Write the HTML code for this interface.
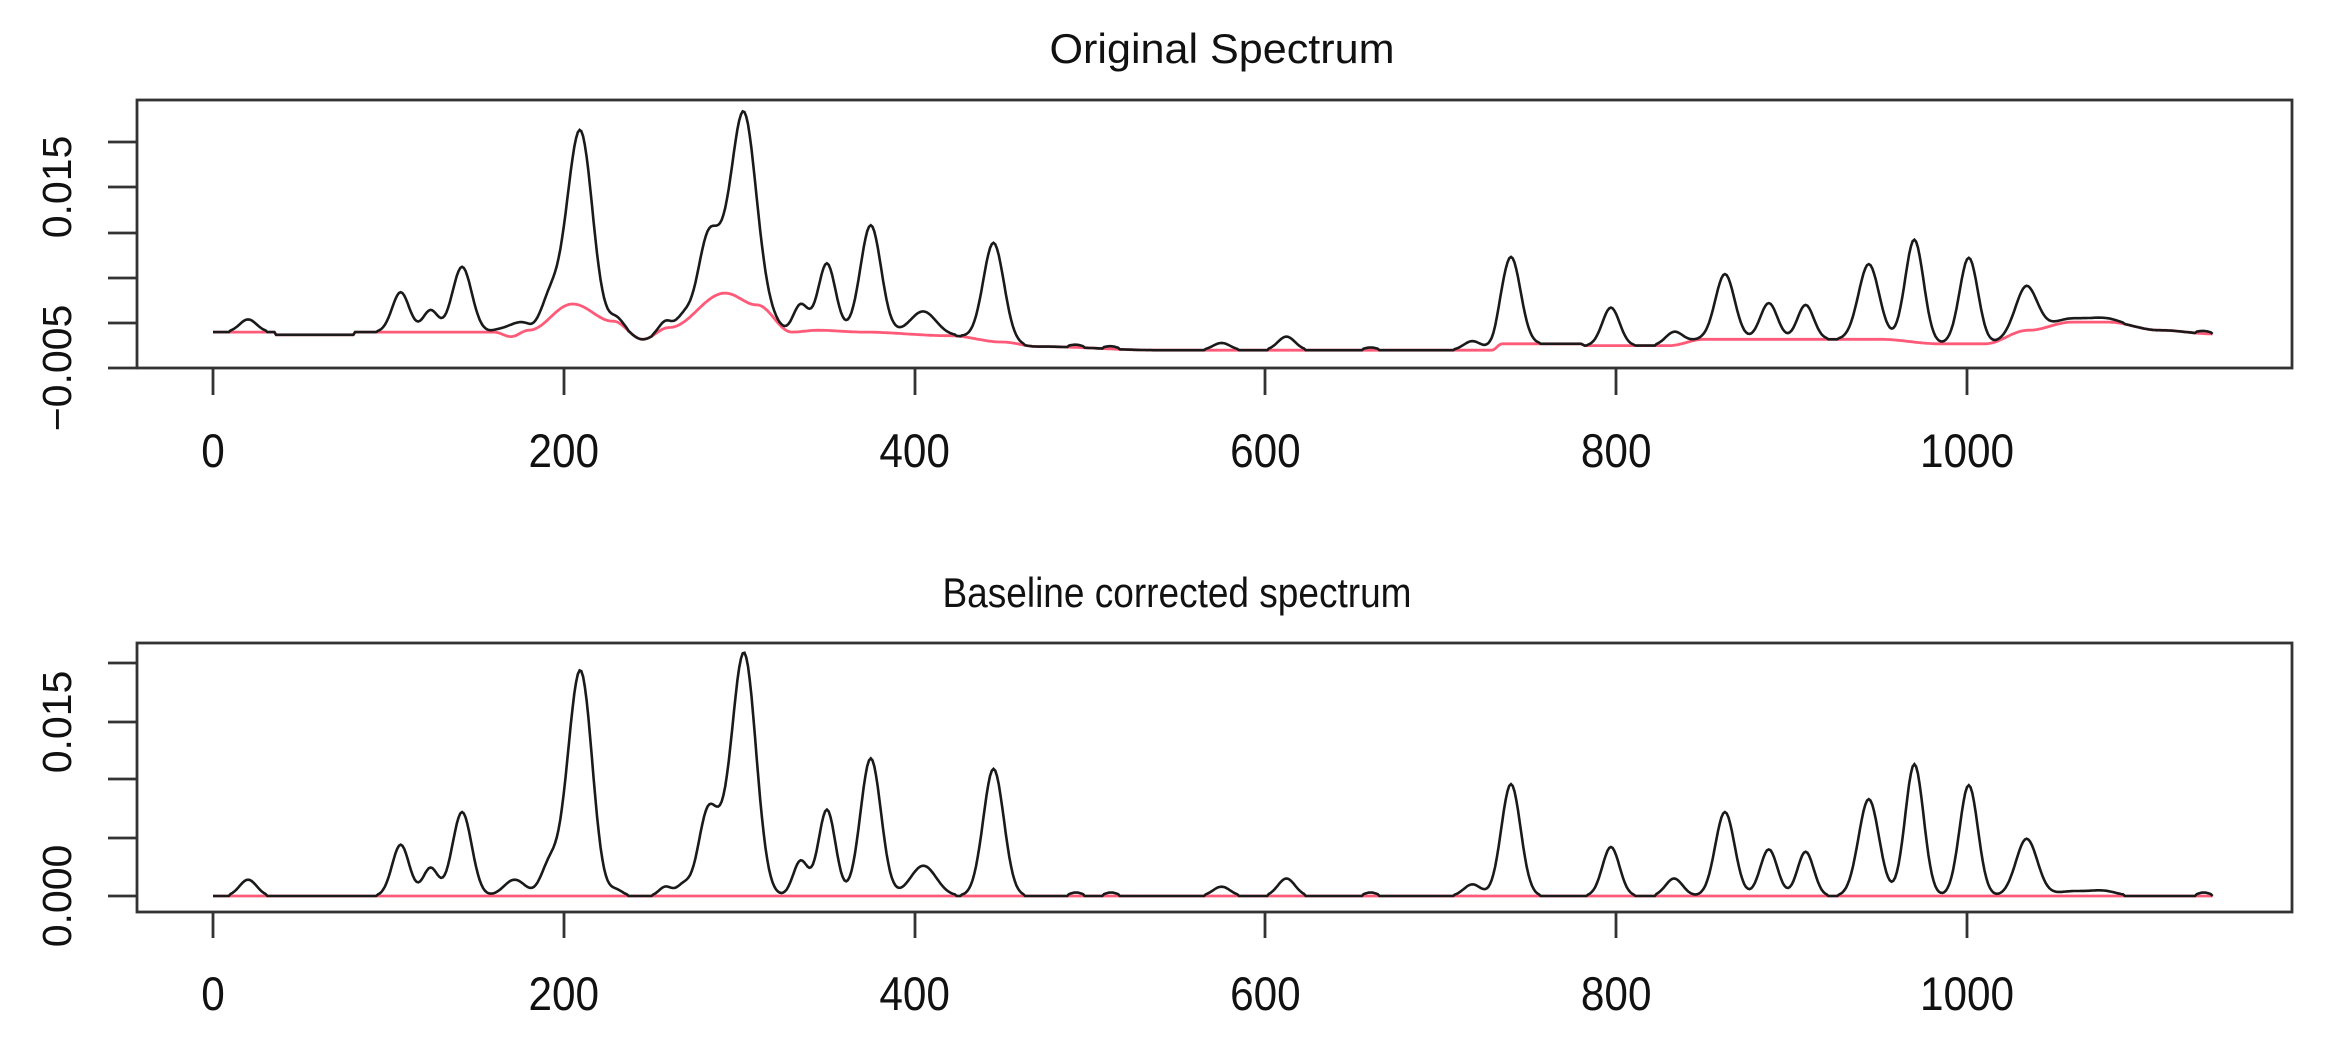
<!DOCTYPE html>
<html><head><meta charset="utf-8"><style>
html,body{margin:0;padding:0;background:#fff;}
svg{display:block;}
text{font-family:"Liberation Sans",sans-serif;fill:#111;}
</style></head><body>
<svg id="s" width="2328" height="1056" viewBox="0 0 2328 1056" xmlns="http://www.w3.org/2000/svg">
<rect width="2328" height="1056" fill="#fff"/>
<text x="1222" y="63" font-size="42" text-anchor="middle" textLength="345" lengthAdjust="spacingAndGlyphs">Original Spectrum</text>
<text x="1177" y="607" font-size="42" text-anchor="middle" textLength="469" lengthAdjust="spacingAndGlyphs">Baseline corrected spectrum</text>
<g stroke="#333" stroke-width="2.8" fill="none">
<rect x="137" y="100" width="2155" height="268"/>
<rect x="137" y="643" width="2155" height="269"/>
<path d="M108 142H137M108 187H137M108 233H137M108 278H137M108 323H137M108 368H137"/>
<path d="M108 663H137M108 722H137M108 779H137M108 838H137M108 896H137"/>
<path d="M213 368V395M564 368V395M915 368V395M1265 368V395M1616 368V395M1967 368V395"/>
<path d="M213 912V938M564 912V938M915 912V938M1265 912V938M1616 912V938M1967 912V938"/>
</g>
<g font-size="41" text-anchor="middle">
<text transform="translate(71,187) rotate(-90)">0.015</text>
<text transform="translate(71,368) rotate(-90)">−0.005</text>
<text transform="translate(71,722) rotate(-90)">0.015</text>
<text transform="translate(71,896) rotate(-90)">0.000</text>
</g>
<g font-size="47" text-anchor="middle" id="xl"></g>
<path id="b1" fill="none" stroke="#ff5a78" stroke-width="2.8"/>
<path id="k1" fill="none" stroke="#1a1a1a" stroke-width="2.6"/>
<path id="b2" fill="none" stroke="#ff5a78" stroke-width="2.8"/>
<path id="k2" fill="none" stroke="#1a1a1a" stroke-width="2.6"/>
</svg>
<script>
var NS="http://www.w3.org/2000/svg";
var xl=document.getElementById('xl');
[0,200,400,600,800,1000].forEach(function(v){
 var px=213+v*1.754;
 [467,1010].forEach(function(y){
  var t=document.createElementNS(NS,'text');
  t.setAttribute('transform','translate('+px+','+y+') scale(0.9,1)');
  t.textContent=v; xl.appendChild(t);
 });
});
var P=[[20,0.0014,4],[107,0.0044,4],[124,0.0024,3.5],[142,0.0072,4.5],[172,0.0014,5],[192,0.0028,4],[202,0.003,4],[210,0.0185,5.2],[230,0.0005,3],[258,0.0008,3],[268,0.0009,3],[282,0.0068,4.5],[292,0.0028,5],[303,0.0203,5.5],[335,0.003,3.5],[350,0.0074,4],[375,0.0118,4.8],[405,0.0026,6],[445,0.0109,4.8],[492,0.0003,3],[512,0.0003,3],[575,0.0008,4],[612,0.0015,4],[660,0.0003,3],[718,0.001,4],[740,0.0096,4.5],[797,0.0042,4],[833,0.0015,4],[862,0.0072,4.5],[887,0.004,4],[908,0.0038,3.8],[944,0.0083,4.8],[970,0.0113,4.3],[1001,0.0095,4.3],[1034,0.0049,5],[1060,0.0004,8],[1078,0.0004,6],[1135,0.0003,3]];
P.forEach(function(p){p[2]*=1.22;});
var B=[[0,-0.001],[35,-0.001],[36,-0.0013],[80,-0.0013],[81,-0.001],[160,-0.001],[170,-0.0015],[180,-0.0008],[205,0.0021],[228,0.0002],[245,-0.0018],[260,-0.0005],[292,0.0033],[310,0.002],[330,-0.001],[345,-0.0008],[370,-0.001],[420,-0.0014],[450,-0.0021],[470,-0.0026],[540,-0.003],[729,-0.003],[735,-0.0023],[780,-0.0023],[782,-0.0025],[830,-0.0025],[850,-0.0018],[950,-0.0018],[985,-0.0023],[1010,-0.0023],[1035,-0.0008],[1060,0.0001],[1080,0.0001],[1110,-0.0008],[1140,-0.0012]];
function base(i){for(var k=0;k<B.length-1;k++){if(i>=B[k][0]&&i<=B[k+1][0]){var t=(i-B[k][0])/(B[k+1][0]-B[k][0]);t=(1-Math.cos(Math.PI*t))/2;return B[k][1]+t*(B[k+1][1]-B[k][1]);}}return B[B.length-1][1];}
function corr(i){var s=0;P.forEach(function(p){var d=(i-p[0])/p[2];if(Math.abs(d)<5)s+=p[1]*Math.exp(-0.5*d*d);});return s<0.00012?0:s;}
var k1='',b1='',k2='',b2='';
for(var i=0;i<=1140;i++){
 var px=(213+i*1.754).toFixed(1),c=corr(i),b=base(i),cmd=i?'L':'M';
 k1+=cmd+px+' '+(323-(b+c)*9060).toFixed(1);
 b1+=cmd+px+' '+(323-b*9060).toFixed(1);
 k2+=cmd+px+' '+(896-c*11660).toFixed(1);
}
b2='M213 896L'+(213+1140*1.754).toFixed(1)+' 896';
document.getElementById('k1').setAttribute('d',k1);
document.getElementById('b1').setAttribute('d',b1);
document.getElementById('k2').setAttribute('d',k2);
document.getElementById('b2').setAttribute('d',b2);
</script>
</body></html>
